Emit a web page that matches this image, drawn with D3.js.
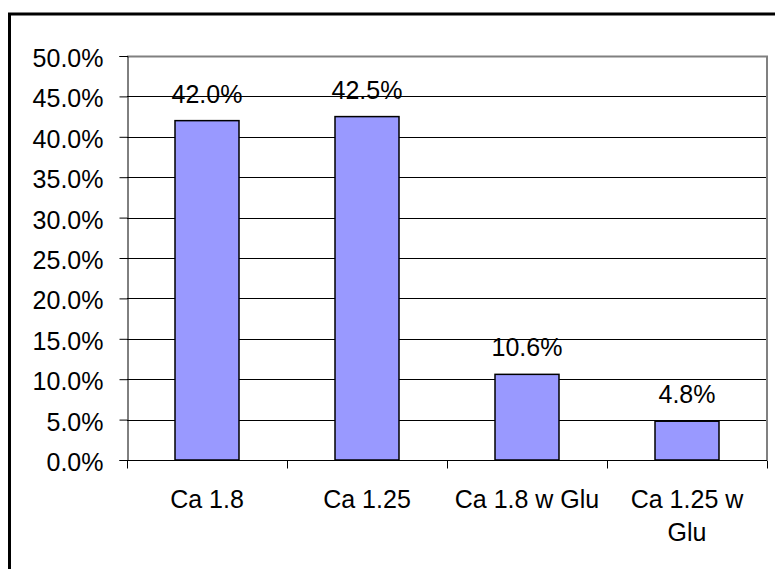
<!DOCTYPE html>
<html>
<head>
<meta charset="utf-8">
<script src="https://d3js.org/d3.v7.min.js"></script>
<style>
body {margin: 0; background: white;}
svg text {font-family: "Liberation Sans", Arial, sans-serif; font-size: 25px; fill: black;}
</style>
</head>
<body>
<svg width=775 height=569></svg>
<script>
var categories = [["Ca 1.8"], ["Ca 1.25"], ["Ca 1.8 w Glu"], ["Ca 1.25 w", "Glu"]];
var values = [42.0, 42.5, 10.6, 4.8];
var yTicks = [0, 5, 10, 15, 20, 25, 30, 35, 40, 45, 50];

var svg = d3.select("svg");
var plot = {left: 127, top: 56, right: 767, bottom: 460};

// outer chart frame
svg.append("rect")
  .attr("x", 9.5).attr("y", 14).attr("width", 800).attr("height", 600)
  .attr("fill", "none").attr("stroke", "black").attr("stroke-width", 3);

var keys = categories.map(function(c) { return c.join(" "); });
var x = d3.scaleBand().domain(keys).range([plot.left, plot.right]).paddingInner(0).paddingOuter(0);
var y = d3.scaleLinear().domain([0, 50]).range([plot.bottom, plot.top]);

// gridlines
svg.append("g").selectAll("line").data(yTicks.slice(1, -1)).enter().append("line")
  .attr("x1", plot.left).attr("x2", plot.right)
  .attr("y1", function(d) { return Math.round(y(d)) + 0.5; })
  .attr("y2", function(d) { return Math.round(y(d)) + 0.5; })
  .attr("stroke", "black").attr("stroke-width", 1);

// plot area border (top + right), grey
svg.append("path")
  .attr("d", "M" + plot.left + "," + (plot.top + 0.5) + "H" + plot.right + "V" + plot.bottom)
  .attr("fill", "none").attr("stroke", "#808080").attr("stroke-width", 2);

// bars
var bw = x.bandwidth() * 0.4;
svg.append("g").selectAll("rect").data(values).enter().append("rect")
  .attr("x", function(d, i) { return x(keys[i]) + (x.bandwidth() - bw) / 2; })
  .attr("y", function(d) { return y(d); })
  .attr("width", bw)
  .attr("height", function(d) { return y(0) - y(d); })
  .attr("fill", "#9999FF").attr("stroke", "black").attr("stroke-width", 1.5);

// value labels
svg.append("g").selectAll("text").data(values).enter().append("text")
  .attr("x", function(d, i) { return x(keys[i]) + x.bandwidth() / 2; })
  .attr("y", function(d) { return y(d) - 18; })
  .attr("text-anchor", "middle")
  .text(function(d) { return d.toFixed(1) + "%"; });

// y axis
var yAxis = svg.append("g").attr("transform", "translate(" + (plot.left + 0.5) + ",0)")
  .call(d3.axisLeft(y).tickValues(yTicks).tickSize(8).tickPadding(16)
    .tickFormat(function(d) { return d.toFixed(1) + "%"; }));
yAxis.select(".domain").attr("stroke", "black");
yAxis.selectAll(".tick line").attr("stroke", "black");
yAxis.selectAll("text").attr("font-size", null).attr("font-family", null).attr("dy", "0.42em");

// x axis
var xAxis = svg.append("g").attr("transform", "translate(0," + (plot.bottom + 0.5) + ")");
xAxis.append("line").attr("x1", plot.left).attr("x2", plot.right).attr("stroke", "black");
var bounds = keys.map(function(k) { return x(k); }).concat([plot.right]);
xAxis.selectAll(".xt").data(bounds).enter().append("line")
  .attr("x1", function(d) { return Math.round(d) + 0.5; })
  .attr("x2", function(d) { return Math.round(d) + 0.5; })
  .attr("y1", 0).attr("y2", 8).attr("stroke", "black");

var labels = xAxis.selectAll(".xl").data(categories).enter().append("text")
  .attr("text-anchor", "middle")
  .attr("transform", function(d, i) { return "translate(" + (x(keys[i]) + x.bandwidth() / 2) + ",47)"; });
labels.selectAll("tspan").data(function(d) { return d; }).enter().append("tspan")
  .attr("x", 0).attr("dy", function(d, i) { return i === 0 ? 0 : 33; })
  .text(function(d) { return d; });
</script>
</body>
</html>
